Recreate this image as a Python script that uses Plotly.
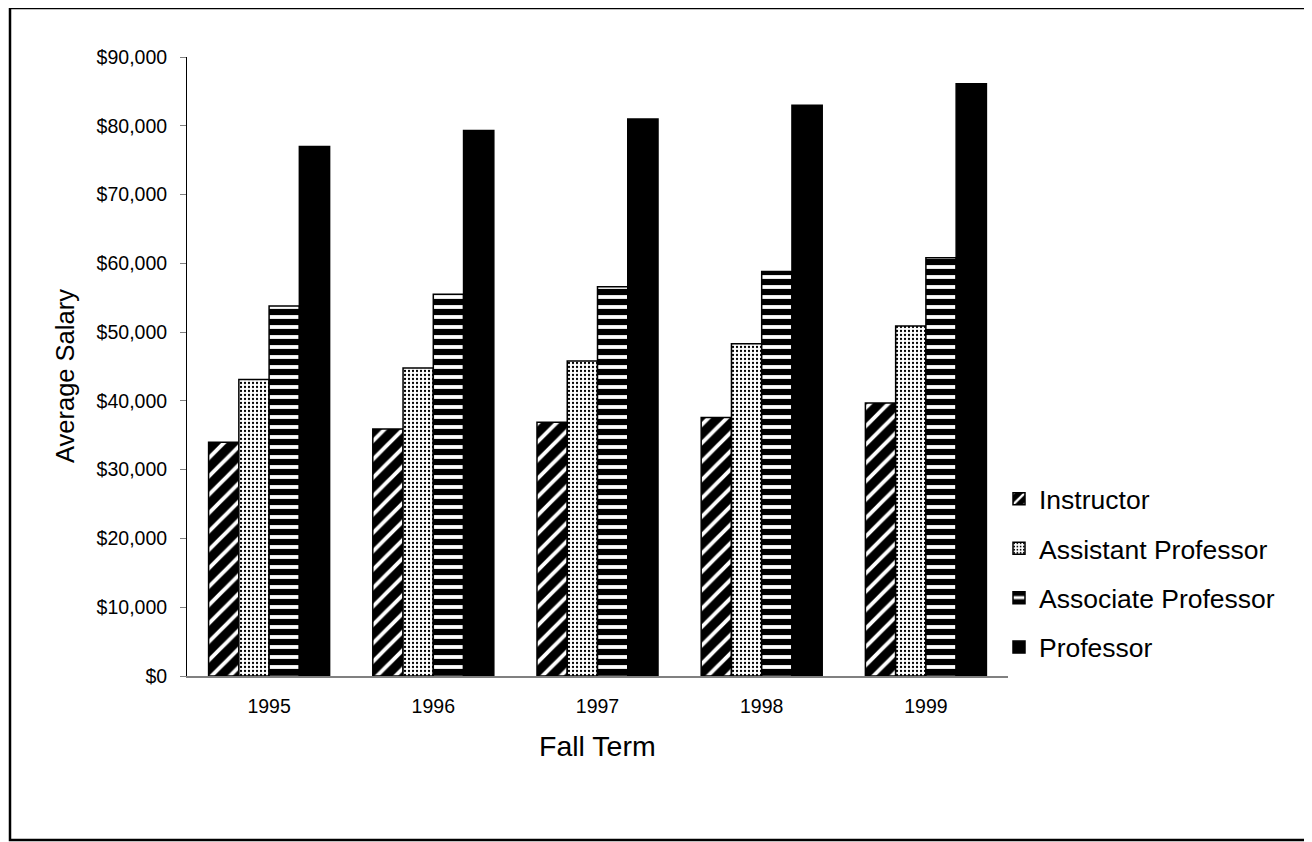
import plotly.graph_objects as go

years = ["1995", "1996", "1997", "1998", "1999"]
instructor = [34000, 35900, 36900, 37600, 39700]
assistant = [43100, 44800, 45800, 48300, 50900]
associate = [53800, 55500, 56600, 58800, 60800]
professor = [77000, 79300, 81000, 83000, 86100]
series_names = ["Instructor", "Assistant Professor", "Associate Professor", "Professor"]
y_ticks = [0, 10000, 20000, 30000, 40000, 50000, 60000, 70000, 80000, 90000]

FONT = "Arial, Liberation Sans, sans-serif"

patterns = [
    dict(shape="/", fgcolor="white", bgcolor="black", size=13, solidity=0.3, fillmode="replace"),
    dict(shape=".", fgcolor="black", bgcolor="white", size=4, solidity=0.25, fillmode="replace"),
    dict(shape="-", fgcolor="black", bgcolor="white", size=10, solidity=0.62, fillmode="replace"),
    None,
]
values = [instructor, assistant, associate, professor]

fig = go.Figure()
for i, (name, vals) in enumerate(zip(series_names, values)):
    marker = dict(color="black", line=dict(color="black", width=1.5))
    if patterns[i] is not None:
        marker["pattern"] = patterns[i]
    fig.add_trace(go.Bar(x=years, y=vals, name=name, marker=marker, legendgroup=name))

OFF = 8  # page body margin in the screenshot
W, H = 1312, 842
# target (screenshot) pixel positions of the plot area
L, R, T, B = 187, 1008, 57, 676
pw, ph = R - L, B - T

def px_x(x):
    return (x - L) / pw

def px_y(y):
    return (B - y) / ph

fig.update_layout(
    width=W, height=H,
    margin=dict(l=L - OFF, r=W - R + OFF, t=T - OFF, b=H - B + OFF, pad=0),
    paper_bgcolor="white", plot_bgcolor="white",
    barmode="group", bargap=0.263, bargroupgap=0,
    font=dict(family=FONT, color="black", size=20),
    showlegend=True,
    legend=dict(
        x=px_x(999), xanchor="left", y=px_y(475), yanchor="top",
        font=dict(family=FONT, size=26.5, color="black"),
        tracegroupgap=12, bgcolor="rgba(0,0,0,0)",
        itemwidth=30,
    ),
    xaxis=dict(
        type="category", showgrid=False, zeroline=False,
        showline=True, linecolor="#808080", linewidth=1.5,
        ticks="", tickfont=dict(size=19.5, family=FONT, color="black"),
        ticklabelstandoff=12,
    ),
    yaxis=dict(
        range=[0, 90000], tickvals=y_ticks, tickformat="$,.0f",
        showgrid=False, zeroline=False,
        showline=True, linecolor="black", linewidth=1,
        ticks="outside", ticklen=6, tickcolor="#808080", tickwidth=1,
        tickfont=dict(size=19.5, family=FONT, color="black"),
        ticklabelstandoff=9,
    ),
    annotations=[
        dict(text="Average Salary", xref="paper", yref="paper", x=px_x(65), y=px_y(376),
             xanchor="center", yanchor="middle", textangle=-90, showarrow=False,
             font=dict(family=FONT, size=25.5, color="black")),
        dict(text="Fall Term", xref="paper", yref="paper", x=px_x(597.5), y=px_y(746),
             xanchor="center", yanchor="middle", showarrow=False,
             font=dict(family=FONT, size=28.5, color="black")),
    ],
    shapes=[
        dict(type="rect", xref="paper", yref="paper",
             x0=px_x(10), x1=px_x(1308), y0=px_y(840), y1=px_y(8),
             line=dict(color="black", width=2.5), fillcolor="rgba(0,0,0,0)", layer="above"),
    ],
)

fig.write_html("out.html")
